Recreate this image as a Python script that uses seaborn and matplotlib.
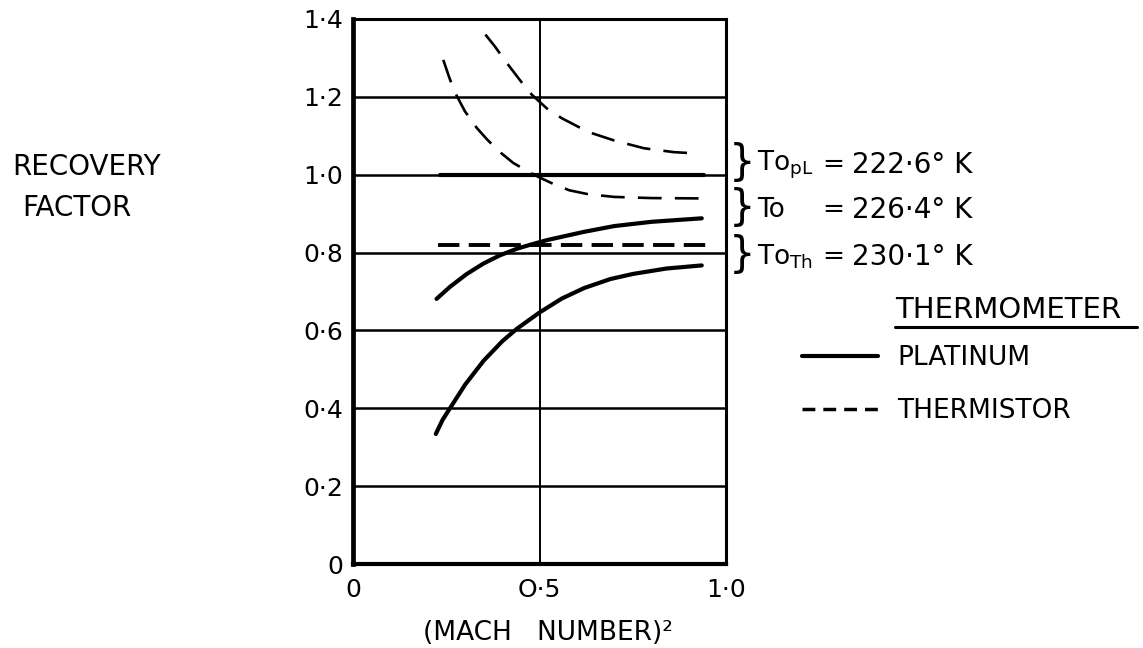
import matplotlib
matplotlib.use("Agg")
import matplotlib.pyplot as plt
import seaborn as sns
import pandas as pd
from matplotlib.lines import Line2D

# (Mach number)^2 and recovery factor for each measured curve
plat_upper_m2 = [0.224, 0.26, 0.305, 0.35, 0.394, 0.44, 0.475, 0.52, 0.618, 0.70, 0.80, 0.935]
plat_upper_r = [0.681, 0.712, 0.745, 0.772, 0.793, 0.810, 0.820, 0.832, 0.853, 0.868, 0.879, 0.888]

plat_lower_m2 = [0.222, 0.24, 0.26, 0.30, 0.35, 0.40, 0.439, 0.50, 0.56, 0.62, 0.69, 0.75, 0.84, 0.935]
plat_lower_r = [0.334, 0.370, 0.400, 0.460, 0.522, 0.572, 0.604, 0.646, 0.682, 0.709, 0.732, 0.745, 0.759, 0.767]

therm_upper_m2 = [0.355, 0.38, 0.41, 0.45, 0.48, 0.52, 0.56, 0.63, 0.70, 0.78, 0.86, 0.93]
therm_upper_r = [1.360, 1.330, 1.290, 1.240, 1.205, 1.170, 1.145, 1.110, 1.088, 1.068, 1.058, 1.054]

therm_lower_m2 = [0.242, 0.258, 0.273, 0.30, 0.332, 0.36, 0.394, 0.43, 0.47, 0.50, 0.54, 0.58, 0.63, 0.70, 0.80, 0.95]
therm_lower_r = [1.295, 1.250, 1.212, 1.163, 1.120, 1.090, 1.058, 1.030, 1.008, 0.993, 0.975, 0.960, 0.950, 0.943, 0.940, 0.939]

# Stagnation-temperature reference levels
ref_pl_m2 = [0.233, 0.94]
ref_pl_r = [1.0, 1.0]
ref_th_m2 = [0.229, 0.957]
ref_th_r = [0.82, 0.82]

y_ticks = [0, 0.2, 0.4, 0.6, 0.8, 1.0, 1.2, 1.4]
y_tick_labels = ["0", "0·2", "0·4", "0·6", "0·8", "1·0", "1·2", "1·4"]
x_ticks = [0, 0.5, 1.0]
x_tick_labels = ["0", "O·5", "1·0"]

temp_names = ["To$_{\\rm pL}$", "To", "To$_{\\rm Th}$"]
temp_values = ["222·6° K", "226·4° K", "230·1° K"]

sns.set_style("white")
ink = "black"
plt.rcParams["font.family"] = ["DejaVu Sans"]
plt.rcParams["mathtext.fontset"] = "dejavusans"
plt.rcParams["text.color"] = ink
plt.rcParams["axes.labelcolor"] = ink
plt.rcParams["xtick.color"] = ink
plt.rcParams["ytick.color"] = ink

W, H = 1143, 648
fig = plt.figure(figsize=(W / 100, H / 100), dpi=100)
ax = fig.add_axes([353 / W, 1 - 564 / H, (726 - 353) / W, (564 - 19) / H])

solid_kw = dict(color=ink, linewidth=3.0, solid_capstyle="round")
dash_kw = dict(color=ink, linewidth=1.9, dashes=(9, 5), dash_capstyle="butt")

def draw(xs, ys, **kw):
    df = pd.DataFrame({"m2": xs, "r": ys})
    sns.lineplot(data=df, x="m2", y="r", ax=ax, sort=False, estimator=None, **kw)

draw(plat_upper_m2, plat_upper_r, **solid_kw)
draw(plat_lower_m2, plat_lower_r, **solid_kw)
draw(therm_upper_m2, therm_upper_r, **dash_kw)
draw(therm_lower_m2, therm_lower_r, **dash_kw)
draw(ref_pl_m2, ref_pl_r, color=ink, linewidth=3.0)
draw(ref_th_m2, ref_th_r, color=ink, linewidth=2.8, dashes=(5.5, 2.4))

ax.set_xlim(0, 1.0)
ax.set_ylim(0, 1.4)
ax.set_xticks(x_ticks)
ax.set_xticklabels(x_tick_labels)
ax.set_yticks(y_ticks)
ax.set_yticklabels(y_tick_labels)
ax.tick_params(length=0, labelsize=18, pad=7, colors=ink, labelcolor=ink)
ax.tick_params(axis="x", pad=10)
ax.set_xlabel("")
ax.set_ylabel("")

for yv in y_ticks[1:-1]:
    ax.axhline(yv, color=ink, linewidth=1.8, zorder=1)
ax.axvline(0.5, color=ink, linewidth=1.4, zorder=1)

for side, lw in [("left", 3.4), ("bottom", 3.0), ("top", 2.2), ("right", 2.2)]:
    ax.spines[side].set_visible(True)
    ax.spines[side].set_color(ink)
    ax.spines[side].set_linewidth(lw)

def ftext(x, y, s, **kw):
    fig.text(x / W, 1 - y / H, s, color=ink, **kw)

ftext(548, 633, "(MACH   NUMBER)²", fontsize=19, ha="center", va="center")
ftext(12, 167, "RECOVERY", fontsize=20, ha="left", va="center")
ftext(22, 208, "FACTOR", fontsize=20, ha="left", va="center")

# temperature brackets and values
for yb, name, val in zip([165, 210, 257], temp_names, temp_values):
    ftext(742, yb - 2, "}", fontsize=30, ha="center", va="center")
    ftext(757, yb, name, fontsize=19, ha="left", va="center")
    ftext(833, yb, "=", fontsize=19, ha="center", va="center")
    ftext(852, yb, val, fontsize=20, ha="left", va="center")

# legend
ftext(895, 310, "THERMOMETER", fontsize=21, ha="left", va="center")
fig.add_artist(Line2D([895 / W, 1137 / W], [1 - 327 / H, 1 - 327 / H], color=ink, linewidth=2.2))
handles = [
    Line2D([], [], color=ink, linewidth=3.0),
    Line2D([], [], color=ink, linewidth=2.5, dashes=(3.7, 2.3)),
]
fig.legend(handles, ["PLATINUM", "THERMISTOR"], loc="upper left",
           bbox_to_anchor=(778 / W, 1 - 321 / H), frameon=False, fontsize=19,
           labelcolor=ink, handlelength=2.9, handletextpad=0.72, labelspacing=1.05)

fig.savefig("out.png", dpi=100)
